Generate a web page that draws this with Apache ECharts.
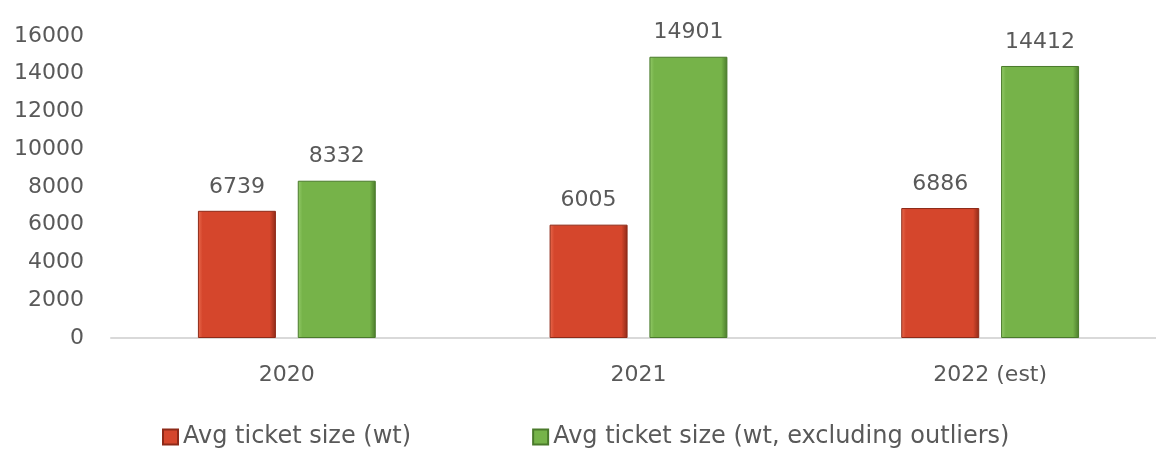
<!DOCTYPE html>
<html>
<head>
<meta charset="utf-8">
<script src="https://cdn.jsdelivr.net/npm/echarts@6/dist/echarts.min.js"></script>
<style>
  html, body { margin: 0; padding: 0; background: #fff; }
  #chart { width: 1156px; height: 449px; }
</style>
</head>
<body>
<div id="chart"></div>
<script>
// Average ticket size by year
const categories = ['2020', '2021', '2022 (est)'];
const seriesNames = ['Avg ticket size (wt)', 'Avg ticket size (wt, excluding outliers)'];
const avgTicket = [6739, 6005, 6886];
const avgTicketExOutliers = [8332, 14901, 14412];
const yTicks = [0, 2000, 4000, 6000, 8000, 10000, 12000, 14000, 16000];

const FONT = '"DejaVu Sans", sans-serif';
const TEXT = '#595959';

// Bevelled bar look: light left edge, dark right edge
function bevel(light, base, dark) {
  return {
    color: new echarts.graphic.LinearGradient(0, 0, 1, 0, [
      { offset: 0, color: light },
      { offset: 0.06, color: base },
      { offset: 0.92, color: base },
      { offset: 1, color: dark }
    ]),
    borderColor: dark,
    borderWidth: 1
  };
}

const chart = echarts.init(document.getElementById('chart'));
chart.setOption({
  animation: false,
  grid: {
    left: 111, width: 1055, top: 36, bottom: 111,
    containLabel: false, outerBoundsMode: 'none'
  },
  legend: {
    top: 420,
    left: 157,
    itemWidth: 15,
    itemHeight: 15,
    itemGap: 121,
    itemTextGap: 4,
    icon: 'rect',
    textStyle: { fontFamily: FONT, fontSize: 24, color: TEXT },
    data: seriesNames
  },
  xAxis: {
    type: 'category',
    data: categories,
    axisLine: { lineStyle: { color: '#d9d9d9', width: 2 } },
    axisTick: { show: false },
    axisLabel: { fontFamily: FONT, fontSize: 22, color: TEXT, margin: 26 }
  },
  yAxis: {
    type: 'value',
    min: yTicks[0],
    max: yTicks[yTicks.length - 1],
    interval: 2000,
    axisLine: { show: false },
    axisTick: { show: false },
    splitLine: { show: false },
    axisLabel: {
      fontFamily: FONT, fontSize: 22, color: TEXT, margin: 27,
      formatter: v => String(v)
    }
  },
  series: [
    {
      name: seriesNames[0],
      type: 'bar',
      data: avgTicket,
      barWidth: 78,
      barGap: '28%',
      itemStyle: Object.assign({ color: '#D5462C' }, bevel('#E86A4E', '#D5462C', '#8E2A18')),
      label: { show: true, position: 'top', distance: 13, fontFamily: FONT, fontSize: 22, color: TEXT }
    },
    {
      name: seriesNames[1],
      type: 'bar',
      data: avgTicketExOutliers,
      barWidth: 78,
      itemStyle: Object.assign({ color: '#76B349' }, bevel('#94CB6A', '#76B349', '#4A7A2B')),
      label: { show: true, position: 'top', distance: 13, fontFamily: FONT, fontSize: 22, color: TEXT }
    }
  ]
});
</script>
</body>
</html>
